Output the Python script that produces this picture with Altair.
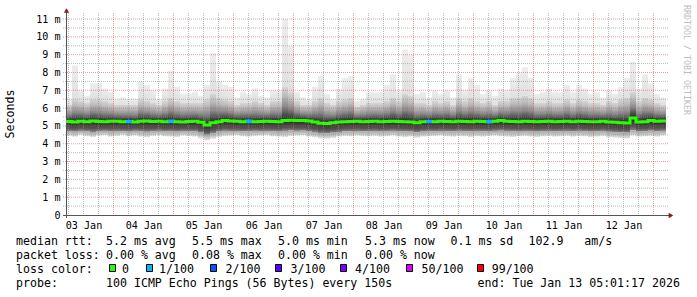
import altair as alt
import pandas as pd

# ---------------- data ----------------
# 100 consolidated columns, 2.4 h each, 03 Jan 05:00 -> 13 Jan 05:00 (UTC)
max_ms = [6.5, 8.4, 7.0, 6.7, 7.4, 7.4, 7.1, 6.9, 6.5, 6.6, 6.5, 6.5, 7.5, 7.3, 7.0, 6.5, 7.1,
          8.1, 7.2, 6.8, 6.8, 6.9, 6.7, 7.3, 9.1, 7.5, 7.3, 7.2, 6.6, 6.9, 6.8, 7.1, 6.7, 6.6,
          7.0, 7.0, 11.0, 9.5, 6.9, 6.6, 6.5, 7.2, 7.8, 6.8, 6.5, 7.1, 7.7, 7.8, 6.4, 6.5, 6.9,
          6.9, 6.9, 7.3, 7.9, 7.0, 9.3, 9.0, 6.8, 6.9, 6.6, 7.0, 6.8, 7.0, 6.6, 7.9, 7.0, 7.7,
          7.3, 6.8, 7.0, 6.7, 7.1, 7.0, 7.7, 8.0, 8.3, 7.7, 6.8, 6.9, 7.1, 6.9, 6.9, 7.3,
          6.9, 7.3, 7.1, 6.8, 6.9, 6.6, 7.0, 6.8, 7.2, 7.7, 8.6, 7.1, 7.9, 7.4, 6.8, 6.6]
hi_ms = [6.2, 6.5, 6.4, 6.3, 6.5, 6.5, 6.4, 6.3, 6.2, 6.2, 6.2, 6.2, 6.5, 6.4, 6.3, 6.2, 6.4,
         6.6, 6.4, 6.3, 6.3, 6.3, 6.3, 6.5, 6.8, 6.6, 6.5, 6.4, 6.2, 6.3, 6.3, 6.4, 6.3, 6.2,
         6.4, 6.4, 7.2, 6.9, 6.4, 6.2, 6.2, 6.4, 6.6, 6.3, 6.2, 6.4, 6.5, 6.6, 6.1, 6.2, 6.3,
         6.3, 6.3, 6.4, 6.6, 6.4, 6.8, 6.7, 6.3, 6.3, 6.2, 6.4, 6.3, 6.4, 6.2, 6.6, 6.4, 6.6,
         6.4, 6.3, 6.4, 6.2, 6.4, 6.4, 6.6, 6.6, 6.7, 6.6, 6.3, 6.3, 6.4, 6.3, 6.3, 6.5,
         6.3, 6.5, 6.4, 6.3, 6.3, 6.2, 6.4, 6.3, 6.5, 6.6, 6.9, 6.4, 6.6, 6.5, 6.3, 6.2]
med_ms = [5.25, 5.22, 5.27, 5.24, 5.28, 5.25, 5.23, 5.27, 5.26, 5.24, 5.25, 5.22, 5.26, 5.28, 5.25, 5.27, 5.24,
          5.26, 5.24, 5.22, 5.25, 5.27, 5.20, 5.05, 5.18, 5.24, 5.30, 5.28, 5.27, 5.24, 5.26, 5.23, 5.25, 5.27,
          5.25, 5.24, 5.30, 5.32, 5.30, 5.31, 5.28, 5.22, 5.15, 5.14, 5.18, 5.22, 5.24, 5.25, 5.26, 5.24, 5.25,
          5.26, 5.24, 5.25, 5.27, 5.25, 5.24, 5.22, 5.18, 5.23, 5.25, 5.24, 5.26, 5.25, 5.24, 5.27, 5.25, 5.24,
          5.26, 5.25, 5.24, 5.27, 5.30, 5.26, 5.25, 5.24, 5.26, 5.25, 5.23, 5.25, 5.26, 5.24, 5.25, 5.26,
          5.24, 5.27, 5.25, 5.23, 5.24, 5.26, 5.22, 5.20, 5.18, 5.17, 5.45, 5.22, 5.24, 5.30, 5.26, 5.28]
lo_ms = [4.70, 4.68, 4.72, 4.70, 4.66, 4.70, 4.72, 4.69, 4.71, 4.70, 4.68, 4.72, 4.70, 4.67, 4.70, 4.72, 4.69,
         4.70, 4.68, 4.71, 4.70, 4.69, 4.62, 4.50, 4.60, 4.68, 4.72, 4.70, 4.71, 4.69, 4.70, 4.72, 4.70, 4.71,
         4.70, 4.68, 4.72, 4.74, 4.72, 4.73, 4.70, 4.66, 4.60, 4.58, 4.62, 4.66, 4.69, 4.70, 4.71, 4.69, 4.70,
         4.71, 4.69, 4.70, 4.72, 4.70, 4.69, 4.68, 4.64, 4.68, 4.70, 4.69, 4.71, 4.70, 4.69, 4.72, 4.70, 4.69,
         4.71, 4.70, 4.69, 4.72, 4.73, 4.71, 4.70, 4.69, 4.71, 4.70, 4.68, 4.70, 4.71, 4.69, 4.70, 4.71,
         4.69, 4.72, 4.70, 4.68, 4.69, 4.71, 4.67, 4.65, 4.63, 4.62, 4.75, 4.68, 4.69, 4.73, 4.70, 4.72]
min_ms = [4.45, 4.40, 4.50, 4.42, 4.38, 4.46, 4.48, 4.40, 4.44, 4.50, 4.42, 4.46, 4.40, 4.36, 4.44, 4.48, 4.42,
          4.40, 4.38, 4.46, 4.44, 4.40, 4.30, 4.20, 4.28, 4.38, 4.44, 4.46, 4.48, 4.42, 4.40, 4.44, 4.46, 4.48,
          4.42, 4.40, 4.38, 4.44, 4.46, 4.48, 4.40, 4.36, 4.30, 4.28, 4.32, 4.40, 4.44, 4.42, 4.46, 4.44, 4.42,
          4.44, 4.40, 4.42, 4.46, 4.40, 4.38, 4.40, 4.34, 4.40, 4.42, 4.44, 4.46, 4.42, 4.40, 4.44, 4.42, 4.38,
          4.42, 4.40, 4.44, 4.46, 4.42, 4.40, 4.38, 4.42, 4.44, 4.40, 4.38, 4.42, 4.44, 4.40, 4.42, 4.44,
          4.40, 4.44, 4.42, 4.38, 4.40, 4.44, 4.36, 4.34, 4.32, 4.30, 4.46, 4.40, 4.42, 4.44, 4.40, 4.46]
# columns with packet loss (column index -> lost pings out of 100)
loss_events = {10: 1, 17: 1, 30: 1, 60: 1, 70: 1}

loss_levels = [0, 1, 2, 3, 4, 50, 99]
loss_labels = ["0", "1/100", "2/100", "3/100", "4/100", "50/100", "99/100"]
loss_colors = ["#26ff00", "#00b8ff", "#0059ff", "#5e00ff", "#7e00ff", "#dd00ff", "#ff0000"]

day_labels_utc = ["2026-01-%02dT12:00:00" % d for d in range(3, 13)]
y_ticks = list(range(12))

legend_line1 = [("median rtt:", 16), ("5.2 ms avg", 106), ("5.5 ms max", 192), ("5.0 ms min", 278),
                ("5.3 ms now", 365), ("0.1 ms sd", 450.5), ("102.9   am/s", 528.5)]
legend_line2 = [("packet loss:", 16), ("0.00 % avg", 106), ("0.08 % max", 192),
                ("0.00 % min", 278), ("0.00 % now", 365)]
legend_line4 = [("probe:", 16), ("100 ICMP Echo Pings (56 Bytes) every 150s", 106),
                ("end: Tue Jan 13 05:01:17 2026", 477.5)]

# ---------------- layout ----------------
MONO = "DejaVu Sans Mono"
PAD_L, PAD_T, W, H = 66, 13, 600, 202
Y_MAX = 11.34
HOUR = 3600 * 1000
DAY = 24 * HOUR


def ms(s):
    return int(pd.Timestamp(s, tz="UTC").timestamp() * 1000)


T0 = ms("2026-01-03T05:00:00")
T1 = ms("2026-01-13T05:00:00")
n = len(med_ms)
step = (T1 - T0) // n


def loss_color(v):
    c = loss_colors[0]
    for lv, col in zip(loss_levels, loss_colors):
        if v >= lv:
            c = col
    return c


df = pd.DataFrame({
    "t0": [T0 + i * step for i in range(n)],
    "t1": [T0 + (i + 1) * step for i in range(n)],
    "mx": max_ms, "hi": hi_ms, "med": med_ms, "lo": lo_ms, "mn": min_ms,
    "loss": [loss_events.get(i, 0) for i in range(n)],
})
df["lc"] = [loss_color(v) for v in df["loss"]]

line_df = pd.DataFrame({"t": list(df["t0"]) + [T1], "med": med_ms + [med_ms[-1]]})
loss_df = df[df["loss"] > 0]

XS = alt.Scale(type="utc", domain=[T0, T1], nice=False)
YS = alt.Scale(domain=[0, Y_MAX], nice=False, zero=False)

x_axis = alt.Axis(values=[ms(s) for s in day_labels_utc],
                  labelExpr="utcFormat(datum.value, '%d %b')",
                  labelFont=MONO, labelFontSize=10.1, labelColor="#000000", ticks=False,
                  domain=False, grid=False, labelPadding=13.3, labelBaseline="alphabetic",
                  labelFlush=False, labelOverlap=False, title=None)
y_axis = alt.Axis(values=y_ticks, labelExpr="datum.value == 0 ? '0' : datum.value + ' m'",
                  labelFont=MONO, labelFontSize=10.1, labelColor="#000000", ticks=False,
                  domain=False, grid=False, labelPadding=6, labelBaseline="middle",
                  labelFlush=False, labelOverlap=False, title=None)


def X(f):
    return alt.X(f, scale=XS, axis=x_axis)


def Y(f):
    return alt.Y(f, scale=YS, axis=y_axis)


def grad(stops):
    return alt.LinearGradient(gradient="linear", x1=0, x2=0, y1=0, y2=1,
                              stops=[alt.GradientStop(offset=o, color=c) for o, c in stops])


base = alt.Chart(df)
top_band = base.mark_rect(fill=grad([(0, "#ededed"), (1, "#e0e0e0")])).encode(
    x=X("t0:T"), x2="t1:T", y=Y("hi:Q"), y2="mx:Q")
upper = base.mark_rect(fill=grad([(0, "#d6d6d6"), (0.25, "#bdbdbd"), (0.59, "#888888"),
                                  (0.85, "#464646"), (1, "#2a2a2a")])).encode(
    x=X("t0:T"), x2="t1:T", y=Y("med:Q"), y2="hi:Q")
lower = base.mark_rect(fill=grad([(0, "#2a2a2a"), (0.7, "#555555"), (1, "#868686")])).encode(
    x=X("t0:T"), x2="t1:T", y=Y("lo:Q"), y2="med:Q")
bottom = base.mark_rect(fill=grad([(0, "#a4a4a4"), (1, "#e2e2e2")])).encode(
    x=X("t0:T"), x2="t1:T", y=Y("mn:Q"), y2="lo:Q")

# grid
h_minor = pd.DataFrame({"v": [k + 0.5 for k in range(11)]})
h_major = pd.DataFrame({"v": list(range(1, 12))})
v_all = list(range(ms("2026-01-03T06:00:00"), T1, 6 * HOUR))
v_major = pd.DataFrame({"t": [t for t in v_all if (t % DAY) == 0]})
v_minor = pd.DataFrame({"t": [t for t in v_all if (t % DAY) != 0]})

MINOR = dict(color="#8f8f8f", opacity=0.6, strokeWidth=1, strokeDash=[1, 1])
MAJOR = dict(color="#de5050", opacity=0.55, strokeWidth=1, strokeDash=[1, 1])

g1 = alt.Chart(h_minor).mark_rule(**MINOR).encode(
    y=Y("v:Q"), x=alt.value(-3), x2=alt.value(W + 2))
g2 = alt.Chart(v_minor).mark_rule(**MINOR).encode(
    x=X("t:T"), y=alt.value(0), y2=alt.value(H + 2))
g3 = alt.Chart(h_major).mark_rule(**MAJOR).encode(
    y=Y("v:Q"), x=alt.value(-3), x2=alt.value(W + 2))
g4 = alt.Chart(v_major).mark_rule(**MAJOR).encode(
    x=X("t:T"), y=alt.value(0), y2=alt.value(H + 2))

one = pd.DataFrame({"k": [0]})
ax_y = alt.Chart(one).mark_rule(color="#555555", strokeWidth=1).encode(
    x=alt.value(0.5), y=alt.value(-4), y2=alt.value(H + 3))
ax_x = alt.Chart(one).mark_rule(color="#555555", strokeWidth=1).encode(
    y=alt.value(H + 0.5), x=alt.value(-3), x2=alt.value(W + 4))
arr_up = alt.Chart(one).mark_point(shape="triangle-up", filled=True, size=28, color="#8b1a1a", opacity=1).encode(
    x=alt.value(0.5), y=alt.value(-2.5))
arr_rt = alt.Chart(one).mark_point(shape="triangle-right", filled=True, size=28, color="#8b1a1a", opacity=1).encode(
    x=alt.value(W + 5), y=alt.value(H + 0.5))

median_line = alt.Chart(line_df).mark_line(interpolate="step-after", strokeWidth=3, color=loss_colors[0]).encode(
    x=X("t:T"), y=Y("med:Q"))
loss_marks = alt.Chart(loss_df).mark_rule(strokeWidth=3).encode(
    x=X("t0:T"), x2="t1:T", y=Y("med:Q"),
    color=alt.Color("lc:N", scale=None))


def txt(s, x, y, size=11.6, color="#000000", angle=0, align="left", baseline="alphabetic"):
    return alt.Chart(pd.DataFrame({"s": [s.replace(" ", "\u00a0")]})).mark_text(
        font=MONO, fontSize=size, color=color, align=align, baseline=baseline, angle=angle
    ).encode(x=alt.value(x), y=alt.value(y), text="s:N")


texts = []
for (s, x) in legend_line1:
    texts.append(txt(s, x - PAD_L, 245 - PAD_T))
for (s, x) in legend_line2:
    texts.append(txt(s, x - PAD_L, 259 - PAD_T))
texts.append(txt("loss color:", 16 - PAD_L, 273 - PAD_T))
for (s, x) in legend_line4:
    texts.append(txt(s, x - PAD_L, 287 - PAD_T))

square_x = [109, 146, 210, 275, 340, 406, 477]
label_x = [122, 159, 225.5, 290.5, 355, 421.5, 491.7]
squares = []
for lab, col, sx, lx in zip(loss_labels, loss_colors, square_x, label_x):
    squares.append(alt.Chart(one).mark_rect(fill=col, stroke="#000000", strokeWidth=1).encode(
        x=alt.value(sx - PAD_L + 0.5), x2=alt.value(sx - PAD_L + 6.5),
        y=alt.value(264.5 - PAD_T), y2=alt.value(271.5 - PAD_T)))
    texts.append(txt(lab, lx - PAD_L, 273 - PAD_T))

texts.append(txt("Seconds", 11 - PAD_L, 114 - PAD_T, angle=270, align="center", baseline="middle"))
texts.append(txt("RRDTOOL / TOBI OETIKER", 686 - PAD_L, 5 - PAD_T, size=8.3, color="#bdbdbd",
                 angle=90, align="left", baseline="middle"))

chart = alt.layer(
    top_band, upper, lower, bottom, g1, g2, g3, g4, ax_y, ax_x, median_line, loss_marks,
    arr_up, arr_rt, *squares, *texts
).properties(
    width=W, height=H,
    padding={"left": PAD_L, "top": PAD_T, "right": 697 - PAD_L - W, "bottom": 297 - PAD_T - H},
    autosize=alt.AutoSizeParams(type="none"),
    background="#ffffff",
).configure_view(strokeWidth=0)

chart.save("out.html", embed_options={"renderer": "svg", "actions": False})
